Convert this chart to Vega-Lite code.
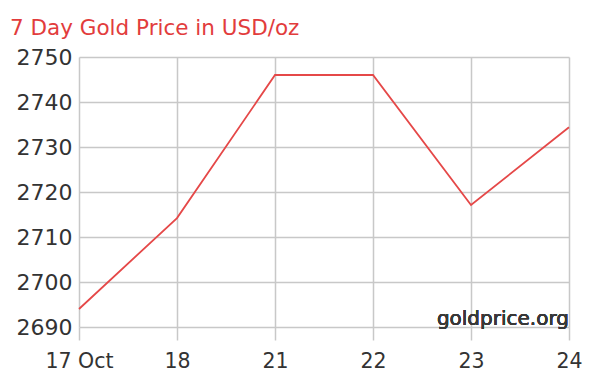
{
  "$schema": "https://vega.github.io/schema/vega-lite/v6.json",
  "width": 490,
  "height": 270,
  "autosize": {"type": "none"},
  "padding": {"left": 79, "top": 57, "right": 29, "bottom": 63},
  "background": "white",
  "title": {
    "text": "7 Day Gold Price in USD/oz",
    "anchor": "start",
    "frame": "group",
    "dx": -69,
    "offset": 7,
    "font": "DejaVu Sans",
    "fontSize": 21.5,
    "fontWeight": "normal",
    "color": "#e23c3c"
  },
  "data": {
    "values": [
      {"day": "17 Oct", "price": 2694.0},
      {"day": "18", "price": 2714.2},
      {"day": "21", "price": 2746.0},
      {"day": "22", "price": 2746.0},
      {"day": "23", "price": 2717.1},
      {"day": "24", "price": 2734.4}
    ]
  },
  "config": {
    "view": {"stroke": null},
    "font": "DejaVu Sans",
    "axis": {
      "gridColor": "#c8c8c8",
      "gridWidth": 1.5,
      "gridOpacity": 1,
      "domain": false,
      "labelFont": "DejaVu Sans",
      "labelColor": "#333333",
      "title": null
    }
  },
  "layer": [
    {
      "mark": {"type": "line", "color": "#e54848", "strokeWidth": 1.8},
      "encoding": {
        "x": {
          "field": "day",
          "type": "ordinal",
          "sort": null,
          "scale": {"type": "point", "padding": 0},
          "axis": {
            "labelAngle": 0,
            "grid": true,
            "ticks": true,
            "tickSize": 13,
            "tickColor": "#c8c8c8",
            "tickWidth": 1.5,
            "labelFontSize": 20.5,
            "labelPadding": 11
          }
        },
        "y": {
          "field": "price",
          "type": "quantitative",
          "scale": {"domain": [2690, 2750], "nice": false, "zero": false},
          "axis": {
            "values": [2690, 2700, 2710, 2720, 2730, 2740, 2750],
            "format": "d",
            "grid": true,
            "ticks": false,
            "labelFontSize": 22,
            "labelPadding": 7
          }
        }
      }
    },
    {
      "mark": {"type": "text", "align": "right", "baseline": "alphabetic", "dy": -2, "fontSize": 20, "font": "DejaVu Sans", "color": "#383838"},
      "encoding": {
        "x": {"datum": "24"},
        "y": {"datum": 2690},
        "text": {"value": "goldprice.org"}
      }
    }
  ]
}
